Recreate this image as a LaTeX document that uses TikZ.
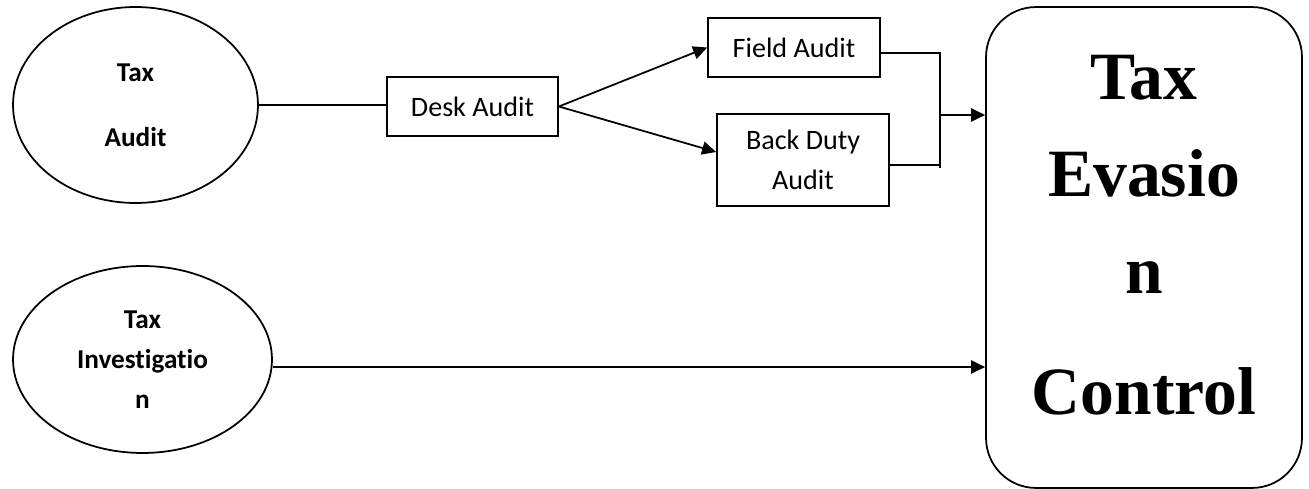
\documentclass[tikz,border=0pt]{standalone}
\usepackage{fontspec}
\setmainfont{Carlito}[Ligatures=NoCommon]
\newfontfamily\timesfont{Liberation Serif}
\usepackage{tikz}
\usetikzlibrary{shapes.geometric,arrows.meta}

\begin{document}
\begin{tikzpicture}[x=0.02cm, y=-0.02cm, line width=1pt,
    oval/.style = {draw, ellipse, inner sep=0pt, align=center, font=\bfseries\fontsize{15.5}{22.8}\selectfont},
    box/.style = {draw, rectangle, inner sep=0pt, align=center, font=\fontsize{16}{22.8}\selectfont},
    goal/.style = {draw, rectangle, rounded corners=1cm, minimum width=6.32cm, minimum height=9.62cm},
    goaltext/.style = {align=center, font=\timesfont\bfseries\fontsize{38.5}{55.2}\selectfont},
    arrow/.style = {-{Triangle[length=8pt,width=7.5pt]}}]
    \useasboundingbox (0,0) rectangle (1309,489);
    \node[oval, minimum width=4.9cm, minimum height=3.92cm] (audit) at (135.5,105) {Tax\\[14pt]Audit};
    \node[oval, minimum width=5.18cm, minimum height=3.74cm] (investigation) at (142.5,359.5) {Tax\\Investigatio\\n};
    \node[box, minimum width=3.42cm, minimum height=1.18cm] (desk) at (472.5,106.5) {Desk Audit};
    \node[box, minimum width=3.44cm, minimum height=1.18cm] (field) at (794,47.5) {Field Audit};
    \node[box, minimum width=3.44cm, minimum height=1.84cm] (backduty) at (803,160) {Back Duty\\Audit};
    \node[goal] (control) at (1144,247.5) {};
    \node[goaltext] (controltext) at ([yshift=0.25cm]control.center) {Tax\\Evasio\\n\\[14pt]Control};
    \coordinate (busbottom) at (940,168);
    \coordinate (busmid) at (940,115);
    \coordinate (fieldout) at ([yshift=-0.11cm]field.east);
    \coordinate (dutyout) at ([yshift=-0.1cm]backduty.east);
    \coordinate (investout) at ([yshift=-0.15cm]investigation.east);
    \draw (audit.east) -- (desk.west |- audit.east);
    \draw[arrow] (desk.east) -- (field.west);
    \draw[arrow] (desk.east) -- ([yshift=0.16cm]backduty.west);
    \draw (fieldout) -| (busbottom);
    \draw[line width=1.7pt] (dutyout) -- (dutyout -| busbottom);
    \draw[arrow] (busmid) -- (busmid -| control.west);
    \draw[arrow] (investout) -- (investout -| control.west);
\end{tikzpicture}
\end{document}
